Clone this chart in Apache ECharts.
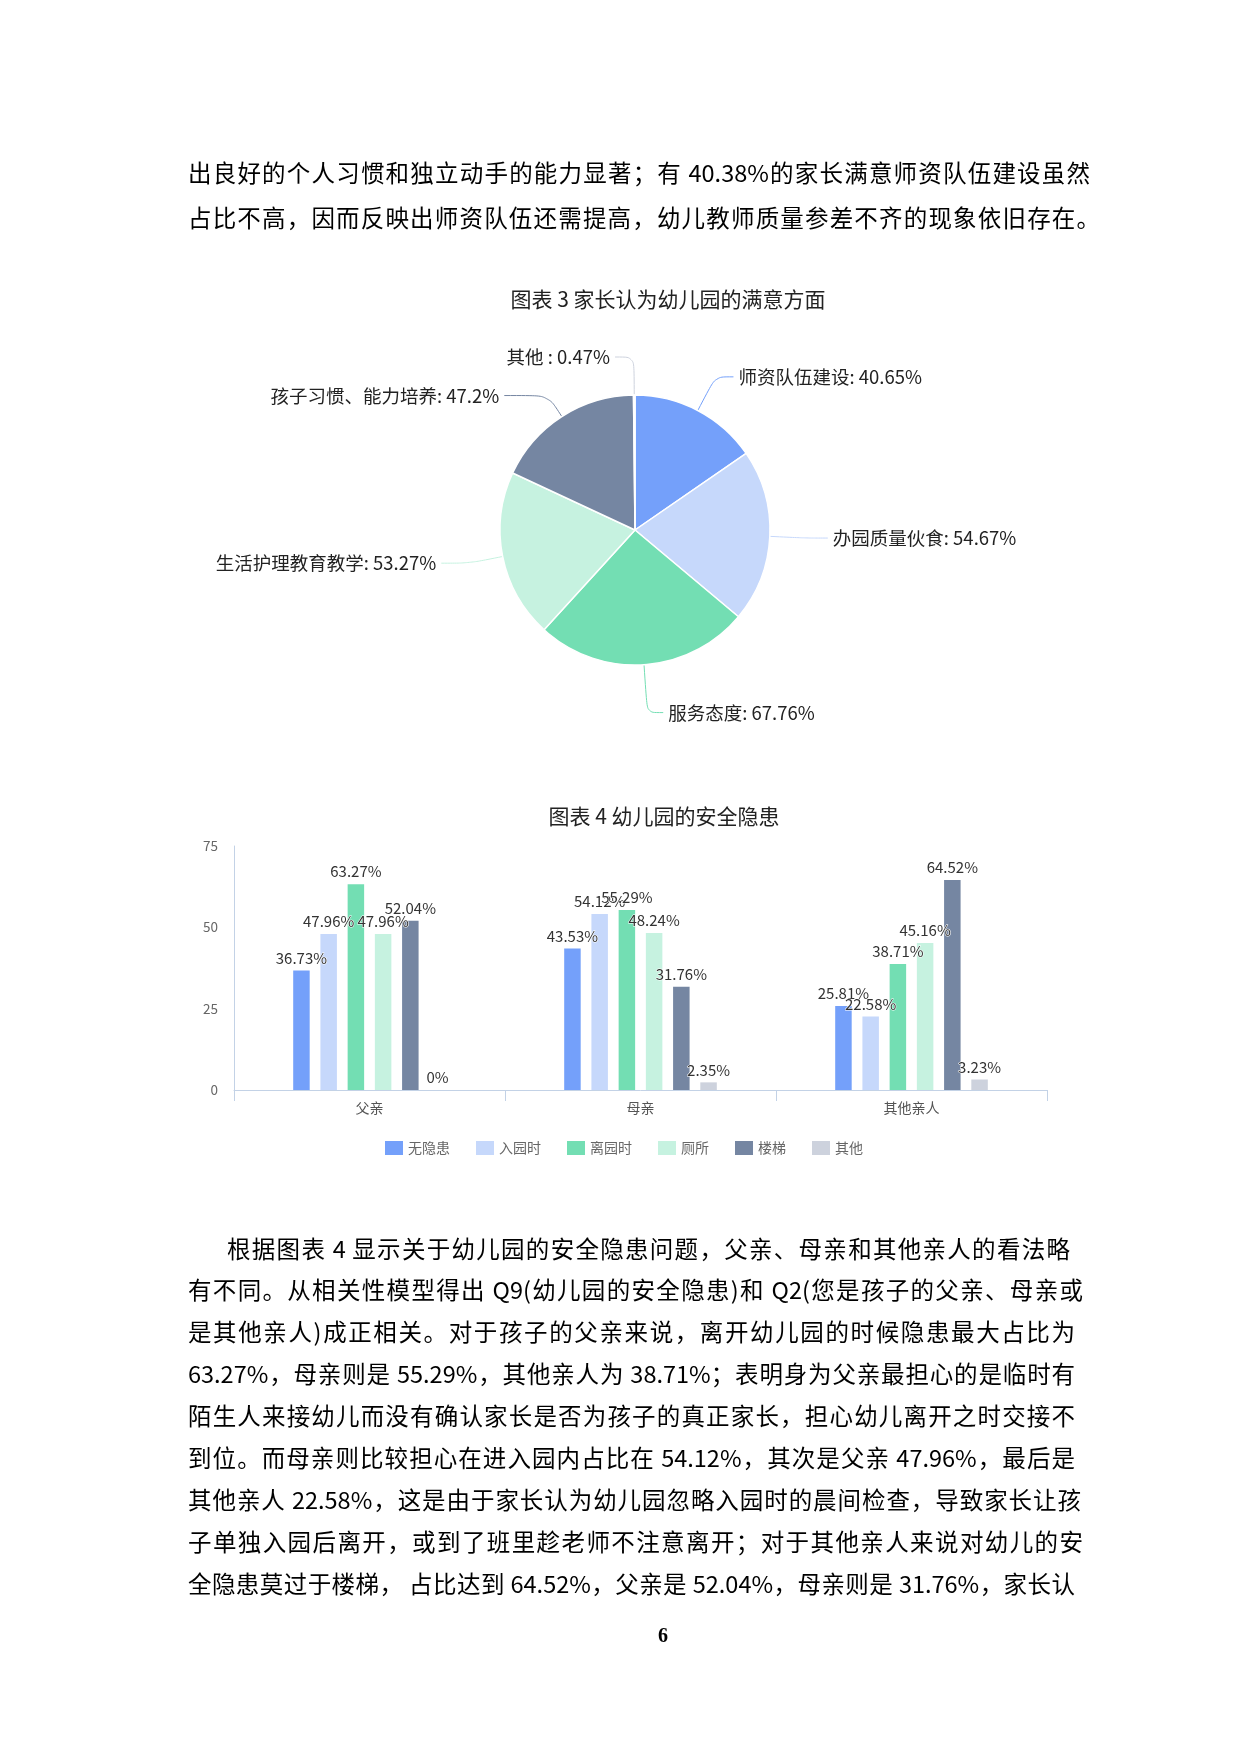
<!DOCTYPE html>
<html>
<head>
<meta charset="utf-8">
<script src="https://cdn.jsdelivr.net/npm/echarts@6/dist/echarts.min.js"></script>
<style>
  html, body { margin: 0; padding: 0; background: #fff; }
  #page { position: relative; width: 1240px; height: 1754px; overflow: hidden; }
  #chart { position: absolute; left: 0; top: 0; width: 1240px; height: 1754px; }
  .ln { position: absolute; height: 40px; line-height: 40px; font-size: 23.5px; color: #000;
        font-family: "Noto Sans CJK SC", sans-serif; white-space: nowrap;
        text-align: justify; text-align-last: justify; z-index: 2; }
  #pno { position: absolute; left: 643px; top: 1624px; width: 40px; text-align: center;
         font: bold 20px "Liberation Serif", serif; z-index: 2; }
</style>
</head>
<body>
<div id="page">
  <div id="chart"></div>
  <div id="text"></div>
  <div id="pno">6</div>
</div>
<script>
// 图表3 满意方面
var pieNames = ['师资队伍建设', '办园质量伙食', '服务态度', '生活护理教育教学', '孩子习惯、能力培养', '其他 ']
var pieValues = [40.65, 54.67, 67.76, 53.27, 47.2, 0.47]

// 图表4 安全隐患
var barCategories = ['父亲', '母亲', '其他亲人']
var barSeriesNames = ['无隐患', '入园时', '离园时', '厕所', '楼梯', '其他']
var noRisk = [36.73, 43.53, 25.81]
var entering = [47.96, 54.12, 22.58]
var leaving = [63.27, 55.29, 38.71]
var toilet = [47.96, 48.24, 45.16]
var stairs = [52.04, 31.76, 64.52]
var others = [0, 2.35, 3.23]
var yTicks = [0, 25, 50, 75]

var colors = ['#74a0fa', '#c6d8fb', '#73deb3', '#c6f2e0', '#7586a2', '#cdd2dd']
// 饼图引导线长度 [length, length2]
var pieLabelLines = [[38, 18], [36, 22], [48, 16], [34, 28], [25, 44], [38, 19]]

// 正文
var textLines = [
  [188, 172, 1090, '出良好的个人习惯和独立动手的能力显著；有 40.38%的家长满意师资队伍建设虽然'],
  [188, 217, 1100, '占比不高，因而反映出师资队伍还需提高，幼儿教师质量参差不齐的现象依旧存在。'],
  [227, 1248, 1070, '根据图表 4 显示关于幼儿园的安全隐患问题，父亲、母亲和其他亲人的看法略'],
  [188, 1289, 1083, '有不同。从相关性模型得出 Q9(幼儿园的安全隐患)和 Q2(您是孩子的父亲、母亲或'],
  [188, 1331, 1075, '是其他亲人)成正相关。对于孩子的父亲来说，离开幼儿园的时候隐患最大占比为'],
  [188, 1373, 1075, '63.27%，母亲则是 55.29%，其他亲人为 38.71%；表明身为父亲最担心的是临时有'],
  [188, 1415, 1075, '陌生人来接幼儿而没有确认家长是否为孩子的真正家长，担心幼儿离开之时交接不'],
  [188, 1457, 1075, '到位。而母亲则比较担心在进入园内占比在 54.12%，其次是父亲 47.96%，最后是'],
  [188, 1499, 1081, '其他亲人 22.58%，这是由于家长认为幼儿园忽略入园时的晨间检查，导致家长让孩'],
  [188, 1541, 1083, '子单独入园后离开，或到了班里趁老师不注意离开；对于其他亲人来说对幼儿的安'],
  [188, 1583, 1075, '全隐患莫过于楼梯， 占比达到 64.52%，父亲是 52.04%，母亲则是 31.76%，家长认']
]
var textBox = document.getElementById('text')
textLines.forEach(function (l) {
  var d = document.createElement('div')
  d.className = 'ln'
  d.style.left = l[0] + 'px'
  d.style.top = (l[1] - 20) + 'px'
  d.style.width = (l[2] - l[0]) + 'px'
  d.textContent = l[3]
  textBox.appendChild(d)
})

var barData = [noRisk, entering, leaving, toilet, stairs, others]
var chart = echarts.init(document.getElementById('chart'))

var barSeries = barSeriesNames.map(function (name, i) {
  return {
    name: name,
    type: 'bar',
    barWidth: 16.5,
    barGap: '65%',
    itemStyle: { color: colors[i] },
    label: {
      show: true,
      position: 'top',
      distance: 5,
      formatter: '{c}%',
      fontSize: 15,
      color: '#333',
      textBorderColor: '#fff',
      textBorderWidth: 1
    },
    data: barData[i]
  }
})

var option = {
  animation: false,
  textStyle: { fontFamily: '"Noto Sans CJK SC", sans-serif' },
  graphic: [
    {
      type: 'text', x: 668, y: 299,
      style: { text: '图表 3 家长认为幼儿园的满意方面', fill: '#222', font: '21px "Noto Sans CJK SC"',
        align: 'center', verticalAlign: 'middle', textAlign: 'center', textVerticalAlign: 'middle' }
    },
    {
      type: 'text', x: 664, y: 816,
      style: { text: '图表 4 幼儿园的安全隐患', fill: '#222', font: '21px "Noto Sans CJK SC"',
        align: 'center', verticalAlign: 'middle', textAlign: 'center', textVerticalAlign: 'middle' }
    }
  ],
  legend: {
    data: barSeriesNames,
    left: 380,
    top: 1136,
    icon: 'rect',
    itemWidth: 18,
    itemHeight: 14,
    itemGap: 26,
    textStyle: { fontSize: 14, color: '#666' }
  },
  grid: { left: 234, top: 846, width: 813, height: 244 },
  xAxis: {
    type: 'category',
    data: barCategories,
    axisLine: { lineStyle: { color: '#c3d2e6' } },
    axisTick: { show: true, length: 11, lineStyle: { color: '#c3d2e6' } },
    axisLabel: { fontSize: 14, color: '#555', margin: 11 }
  },
  yAxis: {
    type: 'value',
    min: yTicks[0],
    max: yTicks[yTicks.length - 1],
    interval: yTicks[1] - yTicks[0],
    splitLine: { show: false },
    axisTick: { show: false },
    axisLine: { show: true, lineStyle: { color: '#c3d2e6' } },
    axisLabel: { fontSize: 13.5, color: '#666', margin: 16 }
  },
  series: [
    {
      name: '满意方面',
      type: 'pie',
      center: [635, 530],
      radius: 135,
      startAngle: 90,
      itemStyle: { borderColor: '#fff', borderWidth: 1.5 },
      label: { formatter: '{b}: {c}%', fontSize: 18.5, color: '#222' },
      labelLine: { smooth: true },
      data: pieNames.map(function (n, i) {
        return {
          name: n,
          value: pieValues[i],
          itemStyle: { color: colors[i] },
          labelLine: { length: pieLabelLines[i][0], length2: pieLabelLines[i][1], smooth: true }
        }
      })
    }
  ].concat(barSeries)
}
chart.setOption(option)
</script>
</body>
</html>
